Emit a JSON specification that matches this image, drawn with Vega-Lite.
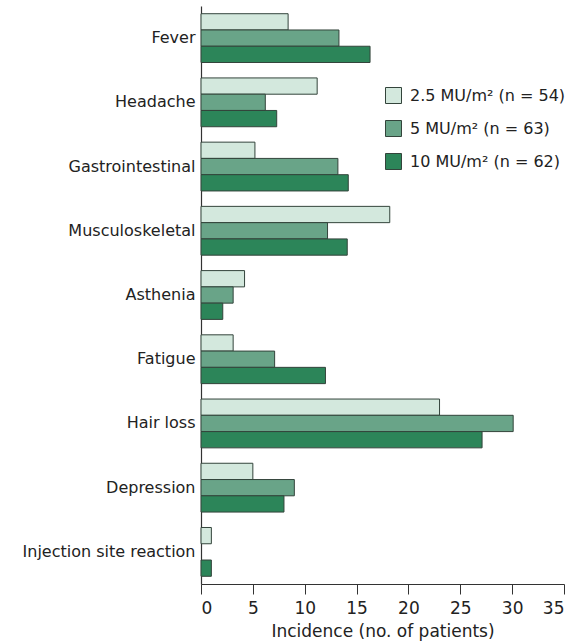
{
  "$schema": "https://vega.github.io/schema/vega-lite/v6.json",
  "width": 363,
  "height": 578,
  "autosize": {"type": "none"},
  "padding": {"left": 201, "top": 6, "right": 15, "bottom": 60},
  "background": "white",
  "config": {"view": {"stroke": null}, "font": "DejaVu Sans"},
  "data": {"values": [
    {"event": "Fever", "dose": "2.5 MU/m² (n = 54)", "n": 8.4},
    {"event": "Fever", "dose": "5 MU/m² (n = 63)", "n": 13.3},
    {"event": "Fever", "dose": "10 MU/m² (n = 62)", "n": 16.3},
    {"event": "Headache", "dose": "2.5 MU/m² (n = 54)", "n": 11.2},
    {"event": "Headache", "dose": "5 MU/m² (n = 63)", "n": 6.2},
    {"event": "Headache", "dose": "10 MU/m² (n = 62)", "n": 7.3},
    {"event": "Gastrointestinal", "dose": "2.5 MU/m² (n = 54)", "n": 5.2},
    {"event": "Gastrointestinal", "dose": "5 MU/m² (n = 63)", "n": 13.2},
    {"event": "Gastrointestinal", "dose": "10 MU/m² (n = 62)", "n": 14.2},
    {"event": "Musculoskeletal", "dose": "2.5 MU/m² (n = 54)", "n": 18.2},
    {"event": "Musculoskeletal", "dose": "5 MU/m² (n = 63)", "n": 12.2},
    {"event": "Musculoskeletal", "dose": "10 MU/m² (n = 62)", "n": 14.1},
    {"event": "Asthenia", "dose": "2.5 MU/m² (n = 54)", "n": 4.2},
    {"event": "Asthenia", "dose": "5 MU/m² (n = 63)", "n": 3.1},
    {"event": "Asthenia", "dose": "10 MU/m² (n = 62)", "n": 2.1},
    {"event": "Fatigue", "dose": "2.5 MU/m² (n = 54)", "n": 3.1},
    {"event": "Fatigue", "dose": "5 MU/m² (n = 63)", "n": 7.1},
    {"event": "Fatigue", "dose": "10 MU/m² (n = 62)", "n": 12.0},
    {"event": "Hair loss", "dose": "2.5 MU/m² (n = 54)", "n": 23.0},
    {"event": "Hair loss", "dose": "5 MU/m² (n = 63)", "n": 30.1},
    {"event": "Hair loss", "dose": "10 MU/m² (n = 62)", "n": 27.1},
    {"event": "Depression", "dose": "2.5 MU/m² (n = 54)", "n": 5.0},
    {"event": "Depression", "dose": "5 MU/m² (n = 63)", "n": 9.0},
    {"event": "Depression", "dose": "10 MU/m² (n = 62)", "n": 8.0},
    {"event": "Injection site reaction", "dose": "2.5 MU/m² (n = 54)", "n": 1.0},
    {"event": "Injection site reaction", "dose": "5 MU/m² (n = 63)", "n": 0},
    {"event": "Injection site reaction", "dose": "10 MU/m² (n = 62)", "n": 1.0}
  ]},
  "mark": {"type": "bar", "stroke": "#33443b"},
  "encoding": {
    "y": {
      "field": "event", "type": "nominal",
      "sort": ["Fever", "Headache", "Gastrointestinal", "Musculoskeletal", "Asthenia", "Fatigue", "Hair loss", "Depression", "Injection site reaction"],
      "scale": {"paddingInner": 0.24, "paddingOuter": 0.12},
      "axis": {"title": null, "ticks": false, "labelFontSize": 16, "labelLimit": 0, "labelColor": "#222", "labelPadding": 6, "domainColor": "#333", "domainWidth": 1.2}
    },
    "yOffset": {
      "field": "dose", "type": "nominal",
      "sort": ["2.5 MU/m² (n = 54)", "5 MU/m² (n = 63)", "10 MU/m² (n = 62)"]
    },
    "x": {
      "field": "n", "type": "quantitative",
      "scale": {"domain": [0, 35], "nice": false},
      "axis": {"title": "Incidence (no. of patients)", "values": [0, 5, 10, 15, 20, 25, 30, 35], "grid": false, "tickSize": 10, "tickColor": "#333", "domainColor": "#333", "domainWidth": 1.2, "labelFontSize": 17, "labelColor": "#222", "labelFontWeight": "normal", "titleFontSize": 17, "titleFontWeight": "normal", "titleColor": "#222", "titlePadding": 7, "labelPadding": 6}
    },
    "strokeWidth": {"condition": {"test": "datum.n > 0", "value": 1}, "value": 0},
    "color": {
      "field": "dose", "type": "nominal",
      "sort": ["2.5 MU/m² (n = 54)", "5 MU/m² (n = 63)", "10 MU/m² (n = 62)"],
      "scale": {"range": ["#d3e8dd", "#69a488", "#2c8559"]},
      "legend": {"title": null, "orient": "none", "legendX": 184, "legendY": 81, "symbolType": "square", "symbolSize": 256, "symbolStrokeColor": "#33443b", "symbolStrokeWidth": 1, "labelFontSize": 16, "labelLimit": 0, "labelColor": "#222", "rowPadding": 12, "labelOffset": 8}
    }
  }
}
